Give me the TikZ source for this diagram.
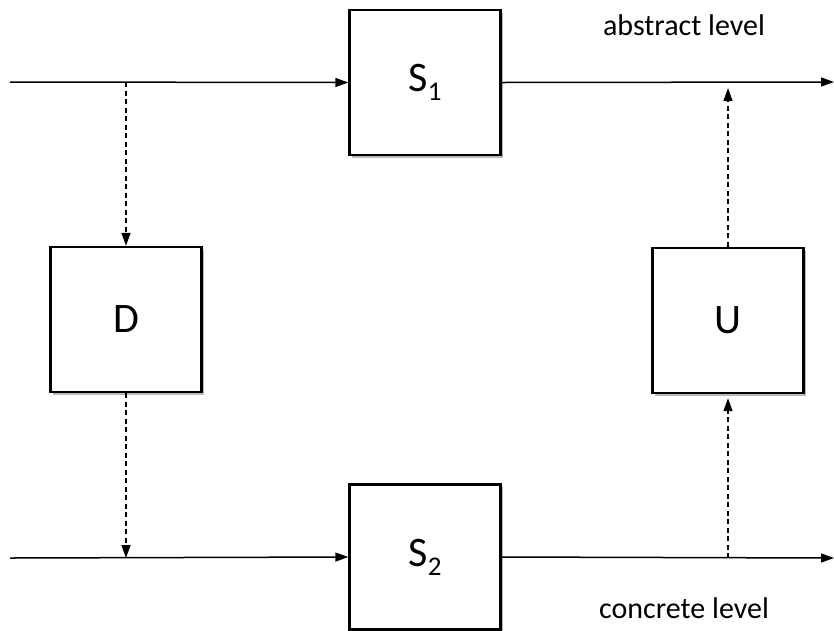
\documentclass[tikz,border=0pt]{standalone}
\usepackage{fontspec}
\setmainfont{Carlito}
\usetikzlibrary{arrows.meta, positioning, shadows, calc}

\tikzset{
  blockbox/.style={draw, line width=2.4pt, fill=white, minimum width=151pt, minimum height=145pt,
    font=\fontsize{42}{42}\selectfont, drop shadow={shadow xshift=2.5pt, shadow yshift=-2.5pt, fill=black!45, opacity=0.6}},
  flow/.style={line width=1.5pt, -{Triangle[length=13pt, width=9pt]}},
  dashflow/.style={flow, dash pattern=on 5pt off 3.5pt},
  leveltext/.style={font=\fontsize{30}{30}\selectfont}
}
\newcommand{\blocksub}[2]{#1\raisebox{-0.22em}{\fontsize{27}{27}\selectfont #2}}

\begin{document}
\begin{tikzpicture}[x=1pt, y=-1pt]
    \useasboundingbox (0,0) rectangle (834,630);

    % Blocks
    \node[blockbox] (S1) at (425,82.5) {\blocksub{S}{1}};
    \node[blockbox] (S2) at (425,557) {\blocksub{S}{2}};
    \node[blockbox] (D) at (126,319.5) {D};
    \node[blockbox] (U) at (728,320.5) {U};

    % Level labels
    \node[leveltext] (abstr) at (684,25) {abstract level};
    \node[leveltext] (concr) at (684,608) {concrete level};

    % Ends of the main lines
    \coordinate (in1) at (10,82);
    \coordinate (out1) at (834,82);
    \coordinate (in2) at (10,558);
    \coordinate (out2) at (834,558);
    \coordinate (dtop) at (D.north |- in1);
    \coordinate (dbot) at (D.south |- in2);
    \coordinate (utop) at ($(U.north |- out1)+(0,6)$);
    \coordinate (ubot) at (U.south |- out2);

    % Main flow
    \draw[flow] (in1) -- (S1.west);
    \draw[flow] (S1.east) -- (out1);
    \draw[flow] (in2) -- (S2.west);
    \draw[flow] (S2.east) -- (out2);

    % Down and up
    \draw[dashflow] (dtop) -- (D.north);
    \draw[dashflow] (D.south) -- (dbot);
    \draw[dashflow] (ubot) -- ($(U.south)+(0,4)$);
    \draw[dashflow] (U.north) -- (utop);
\end{tikzpicture}
\end{document}
